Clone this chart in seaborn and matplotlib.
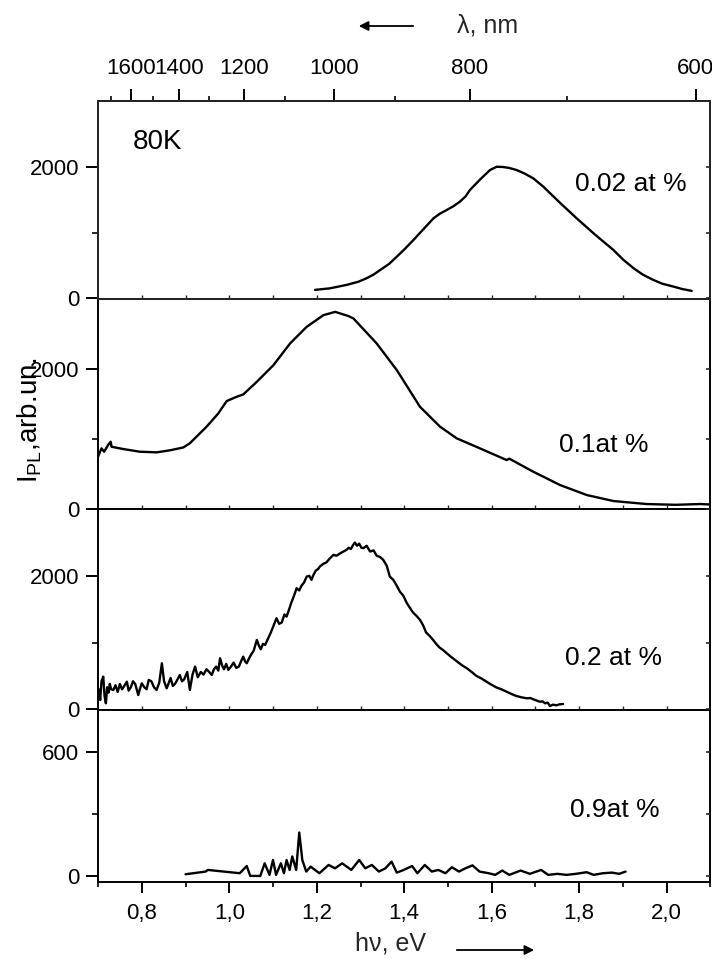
import numpy as np
import pandas as pd
import matplotlib
matplotlib.use("Agg")
import matplotlib.pyplot as plt
import seaborn as sns
from matplotlib.ticker import FixedLocator

# ---------------- data ----------------
e1 = [1.196, 1.230, 1.268, 1.295, 1.314, 1.330, 1.345, 1.365, 1.383, 1.402, 1.421,
      1.445, 1.467, 1.482, 1.497, 1.512, 1.527, 1.540, 1.550, 1.575, 1.596, 1.611,
      1.625, 1.640, 1.657, 1.675, 1.695, 1.718, 1.755, 1.794, 1.835, 1.878, 1.900,
      1.924, 1.945, 1.969, 1.990, 2.015, 2.035, 2.057]
i1 = [126, 150, 202, 250, 304, 360, 430, 520, 633, 755, 887,
      1060, 1218, 1290, 1344, 1400, 1470, 1550, 1648, 1820, 1953, 2003,
      2000, 1985, 1953, 1900, 1826, 1699, 1460, 1218, 975, 735, 590,
      457, 360, 279, 220, 177, 140, 111]

e2 = [0.700, 0.708, 0.714, 0.724, 0.729, 0.731, 0.758, 0.796, 0.834, 0.865, 0.895,
      0.910, 0.948, 0.975, 0.994, 1.017, 1.032, 1.063, 1.101, 1.139, 1.177, 1.215,
      1.242, 1.272, 1.284, 1.337, 1.383, 1.436, 1.482, 1.520, 1.573, 1.634, 1.640,
      1.695, 1.756, 1.817, 1.878, 1.954, 2.020, 2.076, 2.100]
i2 = [747, 867, 819, 924, 962, 890, 857, 819, 810, 840, 880,
      940, 1176, 1367, 1543, 1605, 1638, 1819, 2057, 2367, 2605, 2771,
      2819, 2760, 2724, 2367, 1986, 1461, 1176, 1010, 867, 700, 720,
      533, 343, 200, 114, 71, 60, 71, 65]

e3 = [0.702, 0.705, 0.708, 0.712, 0.715, 0.718, 0.721, 0.724, 0.727, 0.730, 0.735,
      0.740, 0.745, 0.750, 0.755, 0.760, 0.766, 0.770, 0.775, 0.780, 0.785, 0.792,
      0.796, 0.800, 0.806, 0.811, 0.816, 0.822, 0.828, 0.834, 0.840, 0.846, 0.851,
      0.857, 0.862, 0.866, 0.871, 0.876, 0.882, 0.887, 0.892, 0.897, 0.904, 0.910,
      0.916, 0.922, 0.928, 0.935, 0.941, 0.948, 0.954, 0.960, 0.965, 0.970, 0.975,
      0.979, 0.984, 0.988, 0.993, 0.998, 1.004, 1.010, 1.016, 1.022, 1.027, 1.032,
      1.036, 1.040, 1.045, 1.050, 1.056, 1.063, 1.068, 1.072, 1.077, 1.082, 1.088,
      1.095, 1.101, 1.108, 1.114, 1.120, 1.126, 1.131, 1.137, 1.142, 1.148, 1.154,
      1.160, 1.165, 1.171, 1.177, 1.183, 1.188, 1.193, 1.198, 1.203, 1.207, 1.215,
      1.222, 1.230, 1.238, 1.245, 1.252, 1.260, 1.268, 1.273, 1.278, 1.283, 1.287,
      1.292, 1.297, 1.302, 1.307, 1.314, 1.322, 1.330, 1.337, 1.345, 1.352, 1.360,
      1.367, 1.375, 1.383, 1.390, 1.398, 1.406, 1.413, 1.420, 1.428, 1.436, 1.443,
      1.450, 1.458, 1.466, 1.473, 1.480, 1.490, 1.497, 1.508, 1.520, 1.532, 1.543,
      1.554, 1.565, 1.577, 1.588, 1.599, 1.610, 1.622, 1.634, 1.645, 1.656, 1.668,
      1.680, 1.688, 1.695, 1.703, 1.710, 1.716, 1.722, 1.728, 1.733, 1.740, 1.748,
      1.755, 1.763]
i3 = [300, 140, 420, 489, 200, 90, 330, 250, 380, 300, 290,
      360, 260, 380, 300, 350, 414, 280, 330, 420, 380, 214,
      310, 390, 330, 300, 440, 420, 330, 290, 400, 690, 420,
      315, 400, 470, 350, 380, 450, 514, 420, 450, 560, 290,
      520, 640, 480, 560, 520, 600, 560, 514, 600, 640, 580,
      765, 650, 600, 680, 590, 640, 700, 620, 640, 720, 789,
      720, 690, 760, 820, 880, 1039, 950, 900, 980, 964, 1050,
      1150, 1250, 1364, 1280, 1300, 1420, 1389, 1500, 1600, 1700, 1814,
      1780, 1850, 1900, 1988, 2000, 1939, 2020, 2080, 2100, 2138, 2180,
      2200, 2260, 2313, 2300, 2330, 2360, 2388, 2420, 2400, 2460, 2498,
      2450, 2480, 2420, 2414, 2450, 2363, 2380, 2300, 2280, 2238, 2150,
      1988, 1939, 1850, 1763, 1700, 1589, 1520, 1450, 1400, 1339, 1260,
      1150, 1100, 1039, 980, 930, 880, 840, 780, 720, 660, 615,
      560, 500, 460, 414, 370, 330, 300, 264, 230, 200, 180,
      165, 170, 150, 130, 114, 120, 90, 100, 50, 70, 60,
      75, 80]

e4 = [0.900, 0.946, 0.951, 1.024, 1.040, 1.048, 1.071, 1.081, 1.092, 1.100, 1.107,
      1.118, 1.125, 1.131, 1.138, 1.144, 1.153, 1.160, 1.167, 1.176, 1.186, 1.206,
      1.227, 1.242, 1.258, 1.279, 1.297, 1.311, 1.326, 1.342, 1.357, 1.371, 1.383,
      1.399, 1.418, 1.430, 1.447, 1.463, 1.478, 1.494, 1.509, 1.525, 1.540, 1.556,
      1.572, 1.593, 1.608, 1.624, 1.640, 1.666, 1.687, 1.713, 1.729, 1.750, 1.771,
      1.792, 1.817, 1.833, 1.854, 1.875, 1.891, 1.906]
i4 = [8, 21, 29, 13, 48, 0, 0, 61, 5, 77, 5,
      61, 13, 77, 29, 94, 29, 210, 77, 21, 45, 13,
      53, 37, 61, 29, 77, 37, 53, 21, 37, 69, 16,
      29, 48, 13, 53, 21, 29, 13, 42, 21, 37, 51,
      21, 13, 5, 26, 5, 26, 10, 29, 5, 10, 5,
      10, 18, 5, 13, 16, 10, 21]

panel_labels = ["0.02 at %", "0.1at %", "0.2 at %", "0.9at %"]

x_major = [0.8, 1.0, 1.2, 1.4, 1.6, 1.8, 2.0]
x_major_labels = ["0,8", "1,0", "1,2", "1,4", "1,6", "1,8", "2,0"]
x_minor = [0.7, 0.9, 1.1, 1.3, 1.5, 1.7, 1.9, 2.1]
inner_ticks = [0.8, 0.9, 1.0, 1.1, 1.2, 1.3, 1.4, 1.5, 1.6, 1.7, 1.8, 1.9, 2.0]

lam_major = [1600, 1400, 1200, 1000, 800, 600]
lam_minor = [1700, 1500, 1300, 1100, 900, 700]

y_major = [[0, 2000], [0, 2000], [0, 2000], [0, 600]]
y_minor = [[1000], [1000], [1000], [300]]
y_lims = [(-5, 3010), (0, 3010), (-10, 3000), (-28, 803)]

# ---------------- style ----------------
sns.set_style("ticks")
plt.rcParams["font.family"] = ["Liberation Sans", "DejaVu Sans"]
plt.rcParams["mathtext.fontset"] = "custom"
plt.rcParams["mathtext.rm"] = "Liberation Sans"
plt.rcParams["mathtext.it"] = "Liberation Sans:italic"

W, H = 712, 959
fig = plt.figure(figsize=(W / 100, H / 100), dpi=100)

left_px, right_px = 98, 710.5
bounds = [(100.7, 298.5), (298.5, 509), (509, 710), (710, 881.7)]
series = [(e1, i1), (e2, i2), (e3, i3), (e4, i4)]
label_pos = [(0.779, 0.579), (0.753, 0.304), (0.763, 0.259), (0.771, 0.418)]

axes = []
for k, ((top, bot), (ex, iy)) in enumerate(zip(bounds, series)):
    ax = fig.add_axes([left_px / W, 1 - bot / H, (right_px - left_px) / W, (bot - top) / H])
    df = pd.DataFrame({"E": ex, "I": iy})
    sns.lineplot(data=df, x="E", y="I", ax=ax, color="black", lw=1.7,
                 sort=False, estimator=None)
    ax.set_xlim(0.7, 2.1)
    ax.set_ylim(*y_lims[k])
    ax.set_xlabel("")
    ax.set_ylabel("")
    for s in ax.spines.values():
        s.set_visible(True)
        s.set_linewidth(1.4)
        s.set_color("black")
    ax.yaxis.set_major_locator(FixedLocator(y_major[k]))
    ax.yaxis.set_minor_locator(FixedLocator(y_minor[k]))
    ax.tick_params(axis="y", which="major", direction="out", length=8.4, width=1.4,
                   labelsize=16, pad=5, colors="black", right=False)
    ax.tick_params(axis="y", which="minor", direction="out", length=4.3, width=1.4,
                   right=False)
    ax.text(label_pos[k][0], label_pos[k][1], panel_labels[k], transform=ax.transAxes,
            ha="left", va="center", fontsize=19, color="black")
    axes.append(ax)

# right-side ticks, short and inward
for k, ax in enumerate(axes):
    axr = ax.twinx()
    axr.set_ylim(ax.get_ylim())
    axr.yaxis.set_major_locator(FixedLocator(y_major[k]))
    axr.yaxis.set_minor_locator(FixedLocator(y_minor[k]))
    axr.tick_params(axis="y", which="both", direction="in", length=3, width=1.2,
                    labelright=False)
    for s in axr.spines.values():
        s.set_visible(False)

# x ticks on inner panels: small inward ticks, no labels
for ax in axes[:3]:
    ax.xaxis.set_major_locator(FixedLocator(inner_ticks))
    ax.xaxis.set_minor_locator(FixedLocator([]))
    ax.tick_params(axis="x", which="major", direction="in", length=3, width=1.0,
                   labelbottom=False)

# bottom panel x axis
ax4 = axes[3]
ax4.xaxis.set_major_locator(FixedLocator(x_major))
ax4.set_xticklabels(x_major_labels)
ax4.xaxis.set_minor_locator(FixedLocator(x_minor))
ax4.tick_params(axis="x", which="major", direction="out", length=8, width=1.4,
                labelsize=16, pad=7, colors="black")
ax4.tick_params(axis="x", which="minor", direction="out", length=3.6, width=1.4)

# top wavelength axis on first panel
ax1 = axes[0]
axt = ax1.twiny()
axt.set_xlim(ax1.get_xlim())
axt.xaxis.set_major_locator(FixedLocator([1240.0 / l for l in lam_major]))
axt.set_xticklabels([str(l) for l in lam_major])
axt.xaxis.set_minor_locator(FixedLocator([1240.0 / l for l in lam_minor]))
axt.tick_params(axis="x", which="major", direction="out", length=8.4, width=1.4,
                labelsize=16, pad=7, colors="black")
axt.tick_params(axis="x", which="minor", direction="out", length=3.6, width=1.4)
for s in axt.spines.values():
    s.set_linewidth(1.4)

# annotations
ax1.text(0.057, 0.793, "80K", transform=ax1.transAxes, ha="left", va="center",
         fontsize=20, color="black")

fig.text(30 / W, 1 - 420 / H, r"I$_{\mathrm{PL}}$,arb.un.", rotation=90,
         ha="center", va="center", fontsize=20, color="black")

fig.text(457 / W, 1 - 25 / H, "λ, nm", ha="left", va="center", fontsize=18)
fig.add_artist(matplotlib.patches.FancyArrowPatch(
    (416 / W, 1 - 26 / H), (356 / W, 1 - 26 / H), transform=fig.transFigure,
    arrowstyle="-|>", mutation_scale=14, lw=1.3, color="black"))

fig.text(355 / W, 1 - 944 / H, "hν, eV", ha="left", va="center", fontsize=18)
fig.add_artist(matplotlib.patches.FancyArrowPatch(
    (454 / W, 1 - 950 / H), (537 / W, 1 - 950 / H), transform=fig.transFigure,
    arrowstyle="-|>", mutation_scale=14, lw=1.3, color="black"))

fig.savefig("out.png", dpi=100)
